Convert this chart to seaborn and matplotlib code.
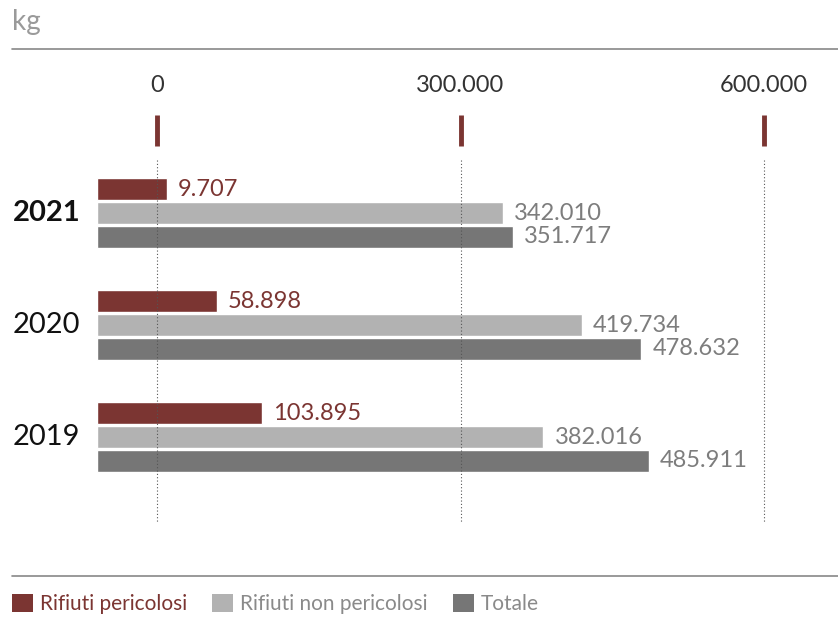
import pandas as pd
import matplotlib.pyplot as plt
import seaborn as sns
from matplotlib.patches import Patch
from matplotlib.lines import Line2D

# Data (kg)
years = ["2021", "2020", "2019"]
pericolosi = [9707, 58898, 103895]
non_pericolosi = [342010, 419734, 382016]
totale = [351717, 478632, 485911]
series = ["Rifiuti pericolosi", "Rifiuti non pericolosi", "Totale"]
tick_values = [0, 300000, 600000]
tick_labels = ["0", "300.000", "600.000"]

colors = ["#7b3532", "#b2b2b2", "#767676"]
text_colors = ["#7b3532", "#7d7d7d", "#7d7d7d"]

# bars in the original start a bit left of the zero line
BASE = 59500

rows = []
for i, y in enumerate(years):
    for s, vals in zip(series, [pericolosi, non_pericolosi, totale]):
        rows.append({"year": y, "serie": s, "value": vals[i]})
df = pd.DataFrame(rows)
df["plot_val"] = df["value"] + BASE

sns.set_style("white")
plt.rcParams["font.family"] = ["Lato", "DejaVu Sans"]

W, H = 838, 617
fig = plt.figure(figsize=(W / 100, H / 100), dpi=100)
ax = fig.add_axes([0, 0, 1, 1])

sns.barplot(data=df, x="plot_val", y="year", hue="serie", order=years,
            hue_order=series, palette=colors, orient="h", width=0.64, gap=0.1,
            saturation=1, legend=False, ax=ax)

# map data to pixels: zero at x=157px, 300.000 = 303.5px; year rows 112px apart
px0, ppu = 157, 303.5 / 300000
ax.set_xlim(BASE + (0 - px0) / ppu, BASE + (W - px0) / ppu)
y0, ypu = 213, 112
ax.set_ylim((H - y0) / ypu, (0 - y0) / ypu)
ax.axis("off")

# value labels
for cont, vals, tc in zip(ax.containers, [pericolosi, non_pericolosi, totale], text_colors):
    labs = [f"{v:,}".replace(",", ".") for v in vals]
    ax.bar_label(cont, labels=labs, padding=8, color=tc, fontsize=17)

# top axis: labels, tick marks and dotted gridlines
for v, lab in zip(tick_values, tick_labels):
    xv = v + BASE
    ax.text(xv, (86 - y0) / ypu, lab, ha="center", va="center", fontsize=17,
            color="#333333")
    ax.vlines(xv, (115 - y0) / ypu, (146 - y0) / ypu, color="#7b3532", linewidth=3.5)
    ax.vlines(xv, (160 - y0) / ypu, (522 - y0) / ypu, color="#555555",
              linewidth=0.8, linestyles=(0, (1, 2)))

# year labels
for i, y in enumerate(years):
    ax.text(BASE + (13 - px0) / ppu, i, y, ha="left", va="center",
            fontsize=21, color="#111111",
            fontweight="bold" if y == "2021" else "normal")

# header and footer
fig.text(12 / W, 1 - 22 / H, "kg", ha="left", va="center", fontsize=20,
         color="#9a9a9a")
fig.add_artist(Line2D([12 / W, 1], [1 - 49 / H] * 2, color="#888888", linewidth=1.2))
fig.add_artist(Line2D([12 / W, 1], [1 - 576 / H] * 2, color="#888888", linewidth=1.2))

handles = [Patch(facecolor=c, edgecolor="none") for c in colors]
fig.legend(handles, series, loc="center left", bbox_to_anchor=(12 / W, 1 - 604 / H),
           ncol=3, frameon=False, handlelength=1.0, handleheight=1.0,
           handletextpad=0.35, columnspacing=1.2, borderpad=0, borderaxespad=0,
           labelcolor=["#7b3532", "#8a8a8a", "#8a8a8a"], prop={"size": 15})

fig.savefig("out.png", dpi=100)
